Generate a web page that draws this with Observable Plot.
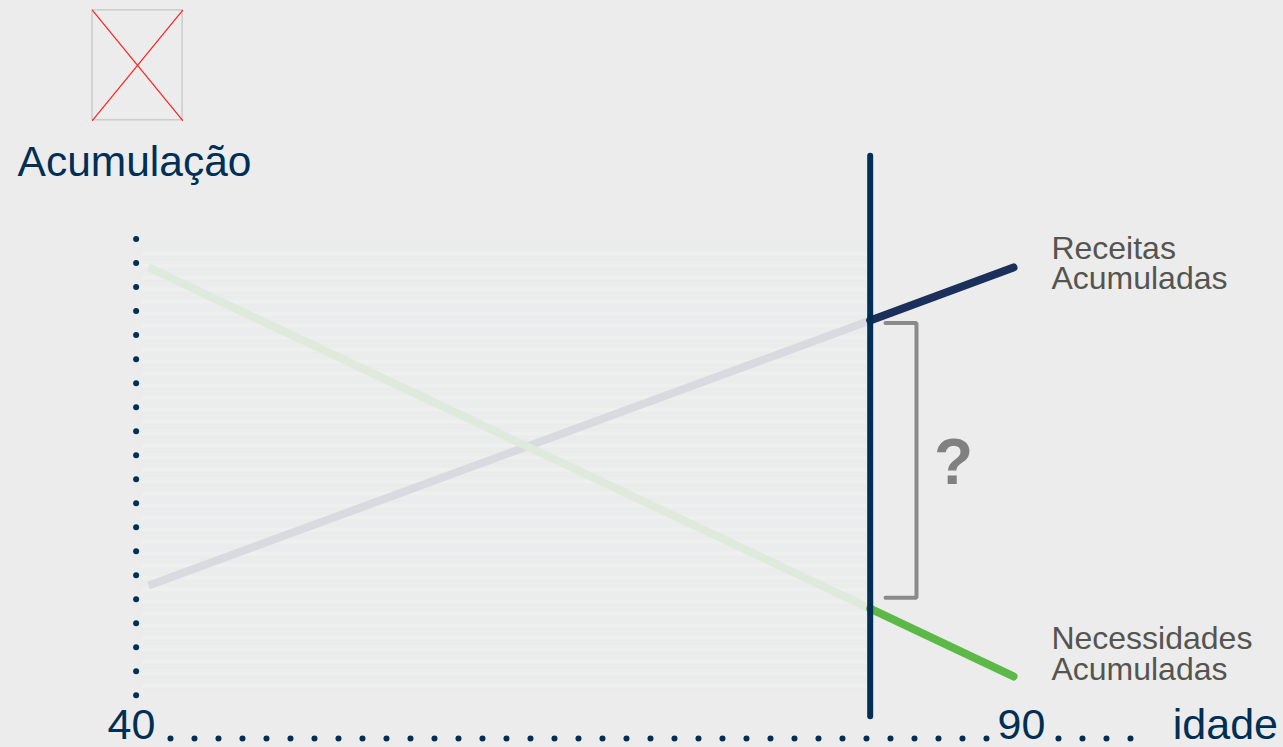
<!DOCTYPE html>
<html><head><meta charset="utf-8">
<script src="https://cdn.jsdelivr.net/npm/d3@7"></script>
<script src="https://cdn.jsdelivr.net/npm/@observablehq/plot@0.6"></script>
<style>html,body{margin:0;padding:0;background:#ececec;overflow:hidden}svg{display:block}</style>
</head><body><div id="chart"></div>
<script>
// x is age; y is in units of one dot of the vertical axis
const ages = [40.96, 81.5, 89.55];
const receitas = [4.57, 15.61, 17.82];
const necessidades = [17.82, 3.61, 0.78];
const yDots = d3.range(0, 20);
const xDotSteps = [...d3.range(0, 35), 37, 38, 39, 40];
const xDotAge = k => 42.19 + k * 1.3483;
const axisDotY = -1.80;
const retirementAge = 81.5;
const verticalSpan = [-0.9, 22.45];
const hatchAges = [40.62, 81.3];
const hatchY = [0.2, 18.9];
const hatchRows = d3.range(0.4, 18.9, 0.5);
const hatchFine = d3.range(0.25, 18.9, 0.125);
const bracketAges = [82.36, 84.1];
const bracketY = [15.5, 4.06];
const textFont = "Liberation Sans, Arial, sans-serif";
const navy = "#002f56";
const grey = "#555550";

const lineData = (vals) => ages.map((a, i) => ({a, v: vals[i]}));

const middleLabels = [
  {a: 40, v: -1.27, t: "40"},
  {a: 90, v: -1.27, t: "90"}
];
const startLabels = [
  {a: 98.5, v: -1.27, t: "idade", s: 43, c: navy},
  {a: 33.6, v: 22.19, t: "Acumulação", s: 42.5, c: navy},
  {a: 91.68, v: 18.58, t: "Receitas", s: 32, c: grey},
  {a: 91.68, v: 17.33, t: "Acumuladas", s: 32, c: grey},
  {a: 91.68, v: 2.37, t: "Necessidades", s: 32, c: grey},
  {a: 91.68, v: 1.08, t: "Acumuladas", s: 32, c: grey}
];

const imgX = [37.81, 42.87], imgY = [23.95, 28.53];

const plot = Plot.plot({
  width: 1283, height: 747,
  margin: 0,
  style: {background: "#ececec", fontFamily: textFont},
  x: {type: "linear", domain: [40, 90], range: [131, 1021], axis: null},
  y: {type: "linear", domain: [0, 19], range: [694.7, 238.6], axis: null},
  marks: [
    // missing image placeholder
    Plot.rect([{}], {x1: imgX[0], x2: imgX[1], y1: imgY[0], y2: imgY[1], fill: "none", stroke: "#cccccc", strokeWidth: 1.5}),
    Plot.line([[imgX[0], imgY[1]], [imgX[1], imgY[0]]], {stroke: "#ff2020", strokeWidth: 1.2}),
    Plot.line([[imgX[0], imgY[0]], [imgX[1], imgY[1]]], {stroke: "#ff2020", strokeWidth: 1.2}),
    // hatched region
    Plot.rect([{}], {x1: hatchAges[0], x2: hatchAges[1], y1: hatchY[0], y2: hatchY[1], fill: "#ebedec"}),
    Plot.ruleY(hatchFine, {x1: hatchAges[0], x2: hatchAges[1], stroke: "#e9ebeb", strokeWidth: 1}),
    Plot.ruleY(hatchRows, {x1: hatchAges[0], x2: hatchAges[1], stroke: "#eef0ef", strokeWidth: 4}),
    // faded and solid lines
    Plot.line(lineData(receitas).slice(0, 2), {x: "a", y: "v", stroke: "#d8dae0", strokeWidth: 8, strokeLinecap: "butt"}),
    Plot.line(lineData(necessidades).slice(0, 2), {x: "a", y: "v", stroke: "#dfe9dc", strokeWidth: 8, strokeLinecap: "butt"}),
    Plot.line(lineData(receitas).slice(1), {x: "a", y: "v", stroke: "#1b2f5b", strokeWidth: 8, strokeLinecap: "round"}),
    Plot.line(lineData(necessidades).slice(1), {x: "a", y: "v", stroke: "#5cb947", strokeWidth: 8, strokeLinecap: "round"}),
    Plot.ruleX([retirementAge], {y1: verticalSpan[0], y2: verticalSpan[1], stroke: navy, strokeWidth: 6, strokeLinecap: "round"}),
    // bracket
    Plot.line([[bracketAges[0], bracketY[0]], [bracketAges[1], bracketY[0]], [bracketAges[1], bracketY[1]], [bracketAges[0], bracketY[1]]], {stroke: "#8a8a8a", strokeWidth: 4, strokeLinejoin: "miter"}),
    Plot.text(["?"], {x: 86.18, y: 9.66, fontSize: 64, fontWeight: 700, fill: "#808080", textAnchor: "middle", fontFamily: textFont}),
    // dotted axes
    Plot.dot(yDots, {x: 40.26, y: d => d, r: 3, fill: navy, stroke: "none"}),
    Plot.dot(xDotSteps, {x: xDotAge, y: axisDotY, r: 3, fill: navy, stroke: "none"}),
    // labels
    Plot.text(middleLabels, {x: "a", y: "v", text: "t", fill: navy, fontSize: 43, textAnchor: "middle", fontFamily: textFont}),
    Plot.text(startLabels, {x: "a", y: "v", text: "t", fill: "c", fontSize: "s", textAnchor: "start", fontFamily: textFont})
  ]
});
document.getElementById("chart").append(plot);
</script></body></html>
